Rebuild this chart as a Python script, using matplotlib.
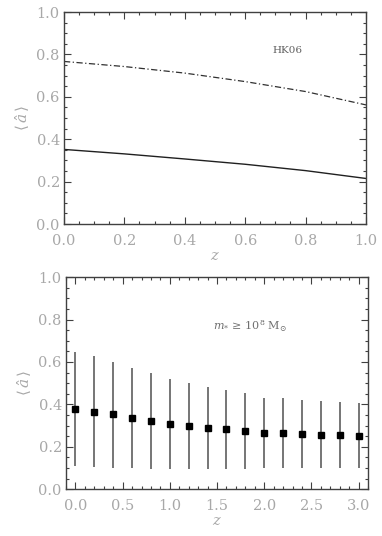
import matplotlib
matplotlib.use("Agg")
import matplotlib.pyplot as plt
from matplotlib.ticker import MultipleLocator, FormatStrFormatter
import numpy as np

# Top panel (HK06)
z_top = [0.0, 0.2, 0.4, 0.6, 0.8, 1.0]
a_dashdot = [0.767, 0.743, 0.712, 0.672, 0.625, 0.562]
a_solid = [0.352, 0.331, 0.307, 0.282, 0.252, 0.215]

# Bottom panel
z_bot = [0.0, 0.2, 0.4, 0.6, 0.8, 1.0, 1.2, 1.4, 1.6, 1.8, 2.0, 2.2, 2.4, 2.6, 2.8, 3.0]
a_mean = [0.378, 0.366, 0.353, 0.337, 0.322, 0.310, 0.300, 0.290, 0.283, 0.275,
          0.264, 0.264, 0.259, 0.255, 0.255, 0.251]
a_hi = [0.645, 0.627, 0.600, 0.573, 0.548, 0.522, 0.500, 0.483, 0.468, 0.452,
        0.429, 0.429, 0.421, 0.414, 0.411, 0.405]
a_lo = [0.112, 0.107, 0.100, 0.100, 0.098, 0.097, 0.095, 0.095, 0.095, 0.098,
        0.100, 0.100, 0.100, 0.100, 0.100, 0.100]

plt.rcParams['font.family'] = ['DejaVu Serif']
plt.rcParams['mathtext.fontset'] = 'dejavuserif'

LABEL_C = '#a8a8a8'
SPINE_C = '#404040'

fig = plt.figure(figsize=(3.82, 5.36), dpi=100)
ax1 = fig.add_axes([0.1675, 0.582, 0.7906, 0.3955])
ax2 = fig.add_axes([0.1728, 0.0871, 0.7906, 0.396])

def style(ax, xmaj, xmin):
    ax.xaxis.set_major_locator(MultipleLocator(xmaj))
    ax.xaxis.set_minor_locator(MultipleLocator(xmin))
    ax.yaxis.set_major_locator(MultipleLocator(0.2))
    ax.yaxis.set_minor_locator(MultipleLocator(0.05))
    ax.tick_params(which='both', direction='in', top=True, right=True,
                   color=SPINE_C, labelcolor=LABEL_C, labelsize=10.5, width=0.8)
    ax.tick_params(which='major', length=5)
    ax.tick_params(which='minor', length=2.5)
    ax.tick_params(axis='x', pad=7)
    ax.tick_params(axis='y', pad=3)
    for s in ax.spines.values():
        s.set_color(SPINE_C)
        s.set_linewidth(1.0)
    ax.set_xlabel(r'$z$', color=LABEL_C, fontsize=10.5, labelpad=1)
    ax.set_ylabel(r'$\langle\,\hat{a}\,\rangle$', color=LABEL_C, fontsize=11, labelpad=3)
    ax.yaxis.set_major_formatter(FormatStrFormatter('%.1f'))
    ax.xaxis.set_major_formatter(FormatStrFormatter('%.1f'))

ax1.plot(z_top, a_dashdot, color='#303030', lw=0.9, linestyle=(0, (5, 2, 1, 2)))
ax1.plot(z_top, a_solid, color='#202020', lw=1.0)
ax1.set_xlim(0, 1)
ax1.set_ylim(0, 1)
style(ax1, 0.2, 0.05)
ax1.text(0.69, 0.82, 'HK06', fontsize=7.5, color='#606060', va='center')

ax2.errorbar(z_bot, a_mean,
             yerr=[np.array(a_mean) - np.array(a_lo), np.array(a_hi) - np.array(a_mean)],
             fmt='s', color='black', ecolor='#505050', elinewidth=1.1, capsize=0,
             markersize=5)
ax2.set_xlim(-0.1, 3.1)
ax2.set_ylim(0, 1)
style(ax2, 0.5, 0.1)
ax2.text(1.46, 0.77, r'$m_{*}\,\geq\,10^{8}\ \mathrm{M}_{\odot}$', fontsize=8,
         color='#707070', va='center')

fig.savefig('out.png', dpi=100)
